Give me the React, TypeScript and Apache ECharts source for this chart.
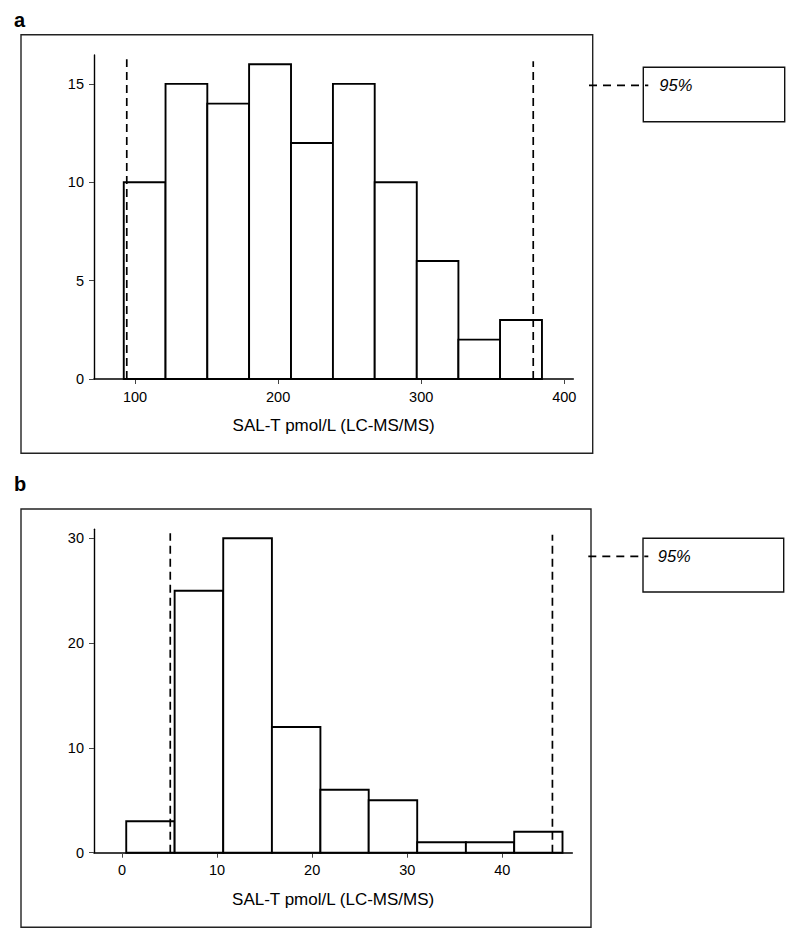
import React, { useEffect, useRef } from "react";
import * as echarts from "echarts";

// Panel a: SAL-T pmol/L histogram
const binEdgesA = [92.1, 121.3, 150.5, 179.7, 209.0, 238.3, 267.5, 296.9, 326.0, 355.1, 384.4];
const countsA = [10, 15, 14, 16, 12, 15, 10, 6, 2, 3];
const percentileLinesA = [94.2, 378.3];
const xTicksA = [100, 200, 300, 400];
const yTicksA = [0, 5, 10, 15];

// Panel b
const binEdgesB = [0.45, 5.54, 10.65, 15.77, 20.87, 25.95, 31.05, 36.17, 41.25, 46.33];
const countsB = [3, 25, 30, 12, 6, 5, 1, 1, 2];
const percentileLinesB = [5.08, 45.27];
const xTicksB = [0, 10, 20, 30, 40];
const yTicksB = [0, 10, 20, 30];

const axisTitle = "SAL-T pmol/L (LC-MS/MS)";
const legendText = "95%";
const panelLabels = ["a", "b"];

const FONT = "'Liberation Sans', Arial, Helvetica, sans-serif";
const INK = "#000";

function binsData(edges: number[], counts: number[]) {
  return counts.map((c, i) => [edges[i], edges[i + 1], c]);
}

function histSeries(idx: number, edges: number[], counts: number[]) {
  return {
    type: "custom",
    xAxisIndex: idx,
    yAxisIndex: idx,
    data: binsData(edges, counts),
    renderItem: (params: any, api: any) => {
      const p0 = api.coord([api.value(0), api.value(2)]);
      const p1 = api.coord([api.value(1), 0]);
      return {
        type: "rect",
        shape: { x: p0[0], y: p0[1], width: p1[0] - p0[0], height: p1[1] - p0[1] },
        style: { fill: "#fff", stroke: INK, lineWidth: 1.9 },
      };
    },
    z: 2,
  };
}

function pctSeries(idx: number, x: number, top: number) {
  return {
    type: "line",
    xAxisIndex: idx,
    yAxisIndex: idx,
    data: [
      [x, 0],
      [x, top],
    ],
    symbol: "none",
    lineStyle: { color: INK, width: 1.7, type: [8, 5] },
    z: 5,
  };
}

function xAxis(idx: number, min: number, max: number, ticks: number[]) {
  return {
    type: "value",
    gridIndex: idx,
    min,
    max,
    splitLine: { show: false },
    axisLine: { onZero: false, lineStyle: { color: INK, width: 1.6 } },
    axisTick: { customValues: ticks, length: 5, lineStyle: { color: "#444", width: 1 } },
    axisLabel: { customValues: ticks, color: INK, fontSize: 14.5, fontFamily: FONT, margin: 10 },
    name: axisTitle,
    nameLocation: "middle",
    nameGap: 38,
    nameTextStyle: { color: INK, fontSize: 17, fontFamily: FONT },
  };
}

function yAxis(idx: number, max: number, ticks: number[]) {
  return {
    type: "value",
    gridIndex: idx,
    min: 0,
    max,
    splitLine: { show: false },
    axisLine: { show: true, onZero: false, lineStyle: { color: INK, width: 1.4 } },
    axisTick: { show: true, customValues: ticks, length: 5, lineStyle: { color: "#444", width: 1 } },
    axisLabel: { customValues: ticks, color: INK, fontSize: 14.5, fontFamily: FONT, margin: 10 },
  };
}

function legendGraphics(boxX: number, boxY: number, boxW: number, boxH: number, textX: number, lineY: number, lineX0: number, lineX1: number) {
  return [
    {
      type: "rect",
      shape: { x: boxX, y: boxY, width: boxW, height: boxH },
      style: { fill: "#fff", stroke: "#111", lineWidth: 1.4 },
      z: 10,
    },
    {
      type: "line",
      shape: { x1: lineX0, y1: lineY, x2: lineX1, y2: lineY },
      style: { stroke: INK, lineWidth: 1.7, lineDash: [8, 6] },
      z: 11,
    },
    {
      type: "text",
      x: textX,
      y: lineY,
      style: {
        text: legendText,
        fill: INK,
        font: `italic 16.5px ${FONT}`,
        textVerticalAlign: "middle",
        verticalAlign: "middle",
      },
      z: 12,
    },
  ];
}

export default function App() {
  const ref = useRef<HTMLDivElement>(null);
  useEffect(() => {
    if (!ref.current) return;
    const chart = echarts.init(ref.current, undefined, { renderer: "svg" });
    chart.setOption({
      animation: false,
      backgroundColor: "#fff",
      grid: [
        { left: 94, top: 55, width: 479.3, height: 324 },
        { left: 94, top: 529.3, width: 478.3, height: 323.4 },
      ],
      xAxis: [xAxis(0, 71.3, 406.3, xTicksA), xAxis(1, -2.94, 47.36, xTicksB)],
      yAxis: [yAxis(0, 16.47, yTicksA), yAxis(1, 30.86, yTicksB)],
      series: [
        histSeries(0, binEdgesA, countsA),
        ...percentileLinesA.map((x, i) => pctSeries(0, x, i === 0 ? 16.25 : 16.15)),
        histSeries(1, binEdgesB, countsB),
        ...percentileLinesB.map((x, i) => pctSeries(1, x, i === 0 ? 30.48 : 30.34)),
      ],
      graphic: [
        {
          type: "rect",
          shape: { x: 21, y: 34.7, width: 571.7, height: 418.6 },
          style: { fill: "none", stroke: "#222", lineWidth: 1.4 },
          z: 0,
        },
        {
          type: "rect",
          shape: { x: 21, y: 509, width: 570, height: 418.3 },
          style: { fill: "none", stroke: "#222", lineWidth: 1.4 },
          z: 0,
        },
        {
          type: "text",
          x: 14,
          y: 20,
          style: { text: panelLabels[0], fill: INK, font: `bold 20px ${FONT}`, verticalAlign: "middle", textVerticalAlign: "middle" },
        },
        {
          type: "text",
          x: 14,
          y: 484,
          style: { text: panelLabels[1], fill: INK, font: `bold 20px ${FONT}`, verticalAlign: "middle", textVerticalAlign: "middle" },
        },
        ...legendGraphics(643.3, 67.3, 141.4, 54.4, 659.3, 85.3, 589, 648.3),
        ...legendGraphics(643, 538.3, 140.7, 53.7, 657.7, 556.3, 588.3, 648.3),
      ],
    });
    return () => chart.dispose();
  }, []);
  return (
    <div
      ref={ref}
      style={{ position: "absolute", left: 0, top: 0, width: 800, height: 942, background: "#fff" }}
    />
  );
}
